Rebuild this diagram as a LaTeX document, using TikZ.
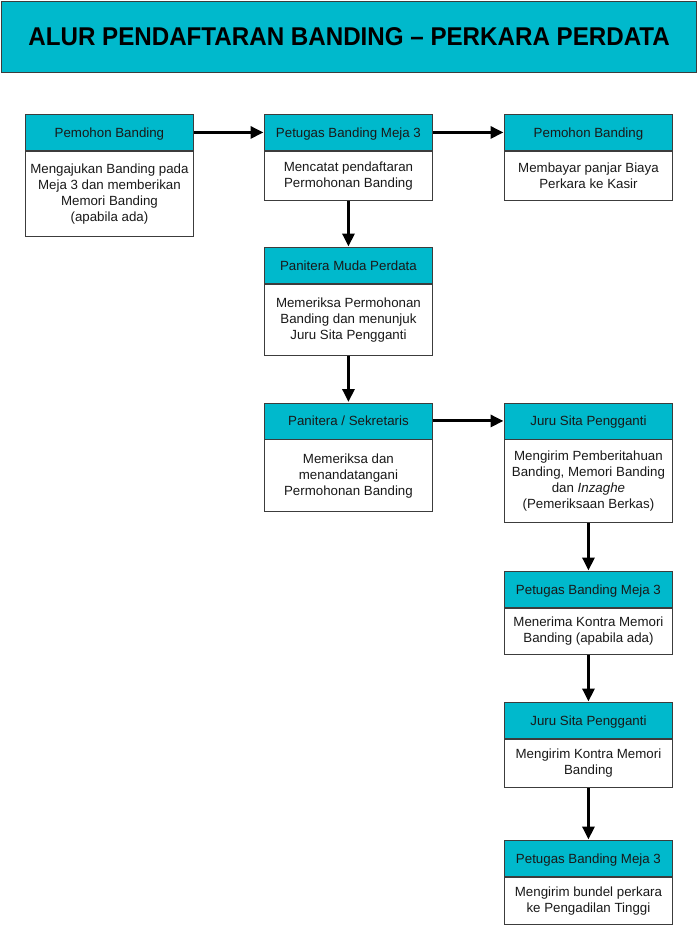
\documentclass[tikz,border=0pt]{standalone}
\usepackage{fontspec}
\setmainfont{Liberation Sans}
\usetikzlibrary{arrows.meta}
\definecolor{hdrcyan}{RGB}{0,185,204}
\definecolor{edge}{RGB}{60,60,60}
\definecolor{txt}{RGB}{25,25,25}
\tikzset{
  hdr/.style={draw=edge, line width=0.9pt, fill=hdrcyan, anchor=north west,
    minimum width=168pt, minimum height=36pt, inner sep=0pt,
    text height=12pt, text depth=2pt,
    font=\fontsize{13.3pt}{16pt}\selectfont, text=txt},
  bdy/.style={draw=edge, line width=0.9pt, fill=white, anchor=north,
    minimum width=168pt, inner sep=0pt, align=center,
    font=\fontsize{13.3pt}{16pt}\selectfont, text=txt},
  flow/.style={line width=3pt, black, -{Triangle[length=13pt,width=12pt]}, shorten >=0.5pt}
}
\begin{document}
\begin{tikzpicture}[x=1pt,y=-1pt]
\useasboundingbox (0,0) rectangle (697,925);
\node[draw=edge, line width=1.3pt, fill=hdrcyan, anchor=north west, minimum width=695pt, minimum height=71pt, inner sep=0pt,
  font=\fontsize{23.8pt}{28pt}\selectfont\bfseries, text=black] (title) at (1,1) {\scalebox{1.015}[1.08]{ALUR PENDAFTARAN BANDING -- PERKARA PERDATA}};

% top row
\node[hdr] (h1) at (25,114) {Pemohon Banding};
\node[bdy, minimum height=85pt] (b1) at (h1.south) {Mengajukan Banding pada\\Meja 3 dan memberikan\\Memori Banding\\(apabila ada)};
\node[hdr] (h2) at (264,114) {Petugas Banding Meja 3};
\node[bdy, minimum height=49pt] (b2) at (h2.south) {Mencatat pendaftaran\\Permohonan Banding};
\node[hdr] (h3) at (504,114) {Pemohon Banding};
\node[bdy, minimum height=49pt] (b3) at (h3.south) {Membayar panjar Biaya\\Perkara ke Kasir};

% middle column
\node[hdr] (h4) at (264,247) {Panitera Muda Perdata};
\node[bdy, minimum height=71pt] (b4) at (h4.south) {Memeriksa Permohonan\\Banding dan menunjuk\\Juru Sita Pengganti};
\node[hdr] (h5) at (264,402.5) {Panitera / Sekretaris};
\node[bdy, minimum height=72pt] (b5) at (h5.south) {Memeriksa dan\\menandatangani\\Permohonan Banding};

% right column
\node[hdr] (h6) at (504,402.5) {Juru Sita Pengganti};
\node[bdy, minimum height=83pt] (b6) at (h6.south) {Mengirim Pemberitahuan\\Banding, Memori Banding\\dan \textit{Inzaghe}\\(Pemeriksaan Berkas)};
\node[hdr] (h7) at (504,571) {Petugas Banding Meja 3};
\node[bdy, minimum height=46pt] (b7) at (h7.south) {Menerima Kontra Memori\\Banding (apabila ada)};
\node[hdr] (h8) at (504,702) {Juru Sita Pengganti};
\node[bdy, minimum height=48pt] (b8) at (h8.south) {Mengirim Kontra Memori\\Banding};
\node[hdr] (h9) at (504,840) {Petugas Banding Meja 3};
\node[bdy, minimum height=47pt] (b9) at (h9.south) {Mengirim bundel perkara\\ke Pengadilan Tinggi};

% connectors
\draw[flow] (h1.east) -- (h2.west);
\draw[flow] (h2.east) -- (h3.west);
\draw[flow] (b2.south) -- (h4.north);
\draw[flow] (b4.south) -- (h5.north);
\draw[flow] (h5.east) -- (h6.west);
\draw[flow] (b6.south) -- (h7.north);
\draw[flow] (b7.south) -- (h8.north);
\draw[flow] (b8.south) -- (h9.north);
\end{tikzpicture}
\end{document}
